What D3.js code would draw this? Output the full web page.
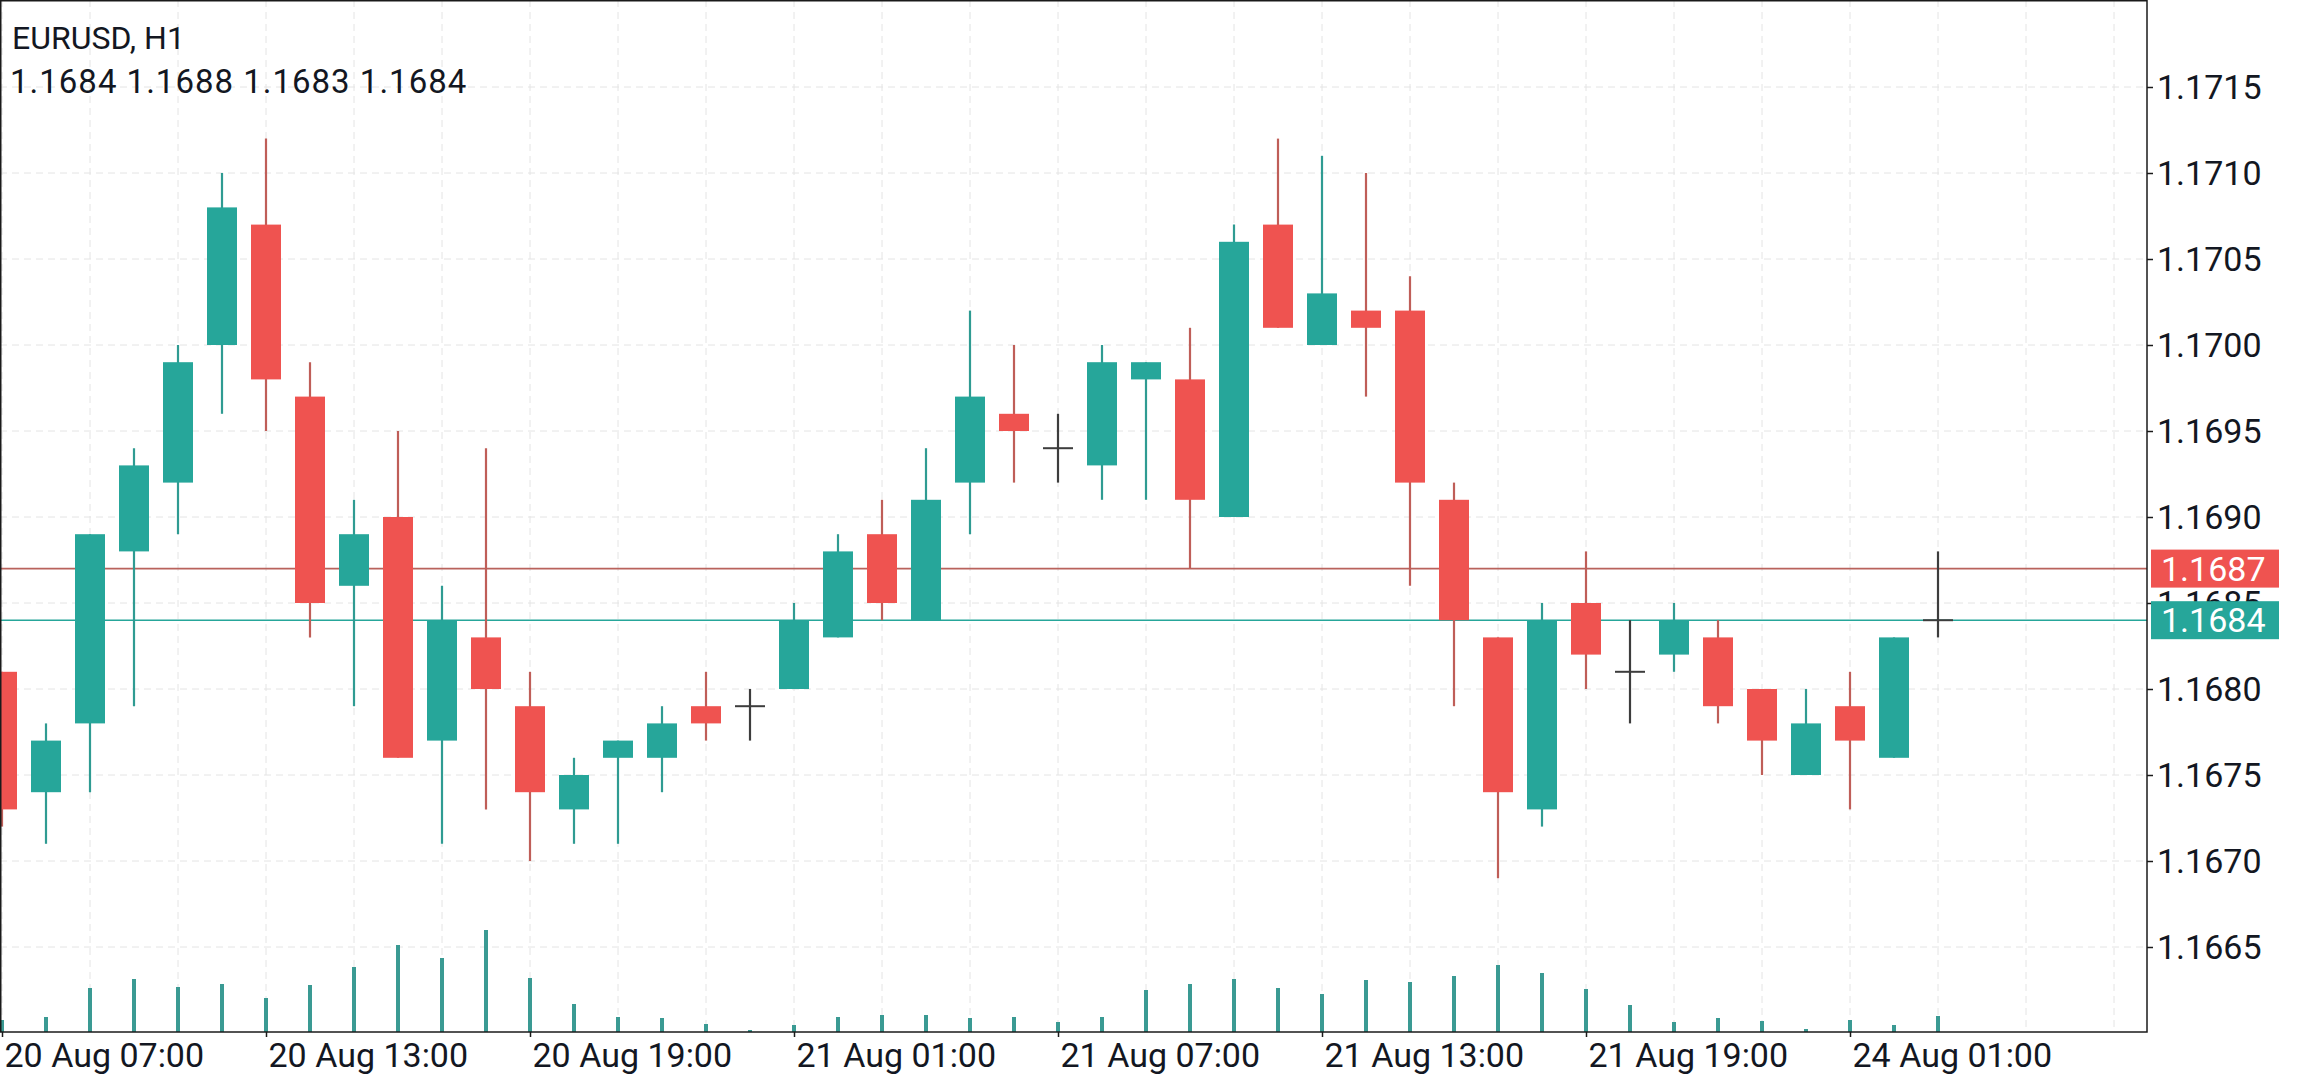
<!DOCTYPE html>
<html>
<head>
<meta charset="utf-8">
<script src="https://cdn.jsdelivr.net/npm/d3@7"></script>
<style>
  html, body { margin: 0; padding: 0; background: #fff; }
  svg { display: block; font-family: Roboto, "Noto Sans", sans-serif; }
</style>
</head>
<body>
<div id="chart"></div>
<script>
// EURUSD H1 bars, 20 Aug 07:00 .. 24 Aug 02:00 (index based, weekend gap collapsed)
const opens  = [1.1681,1.1674,1.1678,1.1688,1.1692,1.1700,1.1707,1.1697,1.1686,1.1690,1.1677,1.1683,1.1679,1.1673,1.1676,1.1676,1.1679,1.1679,1.1680,1.1683,1.1689,1.1684,1.1692,1.1696,1.1694,1.1693,1.1698,1.1698,1.1690,1.1707,1.1700,1.1702,1.1702,1.1691,1.1683,1.1673,1.1685,1.1681,1.1682,1.1683,1.1680,1.1675,1.1679,1.1676,1.1684];
const highs  = [1.1681,1.1678,1.1689,1.1694,1.1700,1.1710,1.1712,1.1699,1.1691,1.1695,1.1686,1.1694,1.1681,1.1676,1.1677,1.1679,1.1681,1.1680,1.1685,1.1689,1.1691,1.1694,1.1702,1.1700,1.1696,1.1700,1.1699,1.1701,1.1707,1.1712,1.1711,1.1710,1.1704,1.1692,1.1683,1.1685,1.1688,1.1684,1.1685,1.1684,1.1680,1.1680,1.1681,1.1683,1.1688];
const lows   = [1.1672,1.1671,1.1674,1.1679,1.1689,1.1696,1.1695,1.1683,1.1679,1.1676,1.1671,1.1673,1.1670,1.1671,1.1671,1.1674,1.1677,1.1677,1.1680,1.1683,1.1684,1.1684,1.1689,1.1692,1.1692,1.1691,1.1691,1.1687,1.1690,1.1701,1.1700,1.1697,1.1686,1.1679,1.1669,1.1672,1.1680,1.1678,1.1681,1.1678,1.1675,1.1675,1.1673,1.1676,1.1683];
const closes = [1.1673,1.1677,1.1689,1.1693,1.1699,1.1708,1.1698,1.1685,1.1689,1.1676,1.1684,1.1680,1.1674,1.1675,1.1677,1.1678,1.1678,1.1679,1.1684,1.1688,1.1685,1.1691,1.1697,1.1695,1.1694,1.1699,1.1699,1.1691,1.1706,1.1701,1.1703,1.1701,1.1692,1.1684,1.1674,1.1684,1.1682,1.1681,1.1684,1.1679,1.1677,1.1678,1.1677,1.1683,1.1684];
// tick volume (relative units)
const volumes = [12,15,44,53,45,48,34,47,65,87,74,102,54,28,15,14,8,2,7,15,17,17,14,15,10,15,42,48,53,44,38,52,50,56,67,59,43,27,10,14,11,3,12,7,16];

const timeTickIdx = [0, 6, 12, 18, 24, 30, 36, 42];
const timeTickLabels = ['20 Aug 07:00','20 Aug 13:00','20 Aug 19:00','21 Aug 01:00',
                        '21 Aug 07:00','21 Aug 13:00','21 Aug 19:00','24 Aug 01:00'];
const priceTicks = [1.1665,1.1670,1.1675,1.1680,1.1685,1.1690,1.1695,1.1700,1.1705,1.1710,1.1715];

const symbol = 'EURUSD, H1';
const askPrice = 1.1687;
const bidPrice = 1.1684;

const W = 2313, H = 1080;
const plotRight = 2147, plotBottom = 1032;
const bodyW = 30;

const teal = '#26a69a', red = '#ef5350';
const tealWick = '#2f9b92', redWick = '#bf5e58';
const dojiColor = '#3d3d3d';

const svg = d3.select('#chart').append('svg')
  .attr('width', W).attr('height', H);

svg.append('rect').attr('width', W).attr('height', H).attr('fill', '#fff');

const x = d3.scaleLinear().domain([0, 48]).range([2, 2114]);
const y = d3.scaleLinear().domain([1.1665, 1.1715]).range([947, 87]);
const v = d3.scaleLinear().domain([0, d3.max(volumes)]).range([0, 102]);

const plot = svg.append('g');
plot.append('clipPath').attr('id', 'clip')
  .append('rect').attr('x', 0).attr('y', 0).attr('width', plotRight).attr('height', plotBottom);
const inner = plot.append('g').attr('clip-path', 'url(#clip)');

// Grid
const gridIdx = d3.range(0, 49, 2);
inner.append('g').selectAll('line').data(gridIdx).join('line')
  .attr('x1', d => x(d)).attr('x2', d => x(d))
  .attr('y1', 0).attr('y2', plotBottom)
  .attr('stroke', '#e4e4e4').attr('stroke-width', 1).attr('stroke-dasharray', '7,5');
inner.append('g').selectAll('line').data(priceTicks).join('line')
  .attr('x1', 0).attr('x2', plotRight)
  .attr('y1', d => y(d)).attr('y2', d => y(d))
  .attr('stroke', '#e4e4e4').attr('stroke-width', 1).attr('stroke-dasharray', '7,5');

// Volume
inner.append('g').selectAll('rect').data(volumes).join('rect')
  .attr('x', (d, i) => x(i) - 2).attr('width', 4)
  .attr('y', d => plotBottom - v(d)).attr('height', d => v(d))
  .attr('fill', '#3a9a93');

// Ask / bid lines
inner.append('line')
  .attr('x1', 0).attr('x2', plotRight).attr('y1', y(askPrice)).attr('y2', y(askPrice))
  .attr('stroke', '#b9625c').attr('stroke-width', 1.6);
inner.append('line')
  .attr('x1', 0).attr('x2', plotRight).attr('y1', y(bidPrice)).attr('y2', y(bidPrice))
  .attr('stroke', teal).attr('stroke-width', 1.6);

// Candles
const bars = opens.map((o, i) => ({ i, o, h: highs[i], l: lows[i], c: closes[i] }));
const candles = inner.append('g').selectAll('g').data(bars).join('g');

candles.append('line')
  .attr('x1', d => x(d.i)).attr('x2', d => x(d.i))
  .attr('y1', d => y(d.h)).attr('y2', d => y(d.l))
  .attr('stroke', d => d.c === d.o ? dojiColor : (d.c > d.o ? tealWick : redWick))
  .attr('stroke-width', 2.2);

candles.filter(d => d.c !== d.o).append('rect')
  .attr('x', d => x(d.i) - bodyW / 2).attr('width', bodyW)
  .attr('y', d => y(Math.max(d.o, d.c)))
  .attr('height', d => Math.abs(y(d.o) - y(d.c)))
  .attr('fill', d => d.c > d.o ? teal : red);

candles.filter(d => d.c === d.o).append('line')
  .attr('x1', d => x(d.i) - bodyW / 2).attr('x2', d => x(d.i) + bodyW / 2)
  .attr('y1', d => y(d.o)).attr('y2', d => y(d.o))
  .attr('stroke', dojiColor).attr('stroke-width', 2);

// Frame
svg.append('rect')
  .attr('x', 0.75).attr('y', 0.75).attr('width', plotRight - 0.75).attr('height', plotBottom - 0.75)
  .attr('fill', 'none').attr('stroke', '#1a1a1a').attr('stroke-width', 1.5);

// Price axis
const yAxis = svg.append('g').attr('transform', `translate(${plotRight},0)`)
  .call(d3.axisRight(y).tickValues(priceTicks).tickFormat(d3.format('.4f')).tickSize(6).tickPadding(4));
yAxis.select('.domain').remove();
yAxis.selectAll('line').attr('stroke', '#1a1a1a').attr('stroke-width', 1.5);
yAxis.selectAll('text').attr('font-size', 34).attr('fill', '#131722')
  .attr('font-family', 'Roboto').attr('dy', '0.35em');

// Time axis
const xAxis = svg.append('g').attr('transform', `translate(0,${plotBottom})`)
  .call(d3.axisBottom(x).tickValues(timeTickIdx)
    .tickFormat((d, k) => timeTickLabels[k]).tickSize(5).tickPadding(6));
xAxis.select('.domain').remove();
xAxis.selectAll('line').attr('stroke', '#1a1a1a').attr('stroke-width', 1.5);
xAxis.selectAll('text').attr('font-size', 34).attr('fill', '#131722')
  .attr('font-family', 'Roboto').attr('text-anchor', 'start').attr('x', 2).attr('dy', '0.71em');

// Price tags
const tags = [{ p: askPrice, fill: red }, { p: bidPrice, fill: teal }];
const tag = svg.append('g').selectAll('g').data(tags).join('g')
  .attr('transform', d => `translate(2151,${y(d.p)})`);
tag.append('rect').attr('x', 0).attr('y', -19).attr('width', 128).attr('height', 38).attr('fill', d => d.fill);
tag.append('text').attr('x', 10).attr('dy', '0.35em')
  .attr('font-size', 34).attr('fill', '#fff')
  .text(d => d3.format('.4f')(d.p));

// Header
const last = bars[bars.length - 1];
svg.append('text').attr('x', 12).attr('y', 49)
  .attr('font-size', 32).attr('fill', '#131722').text(symbol);
svg.append('text').attr('x', 10).attr('y', 93)
  .attr('font-size', 33).attr('letter-spacing', 1).attr('fill', '#131722')
  .text([last.o, last.h, last.l, last.c].map(d3.format('.4f')).join(' '));
</script>
</body>
</html>
